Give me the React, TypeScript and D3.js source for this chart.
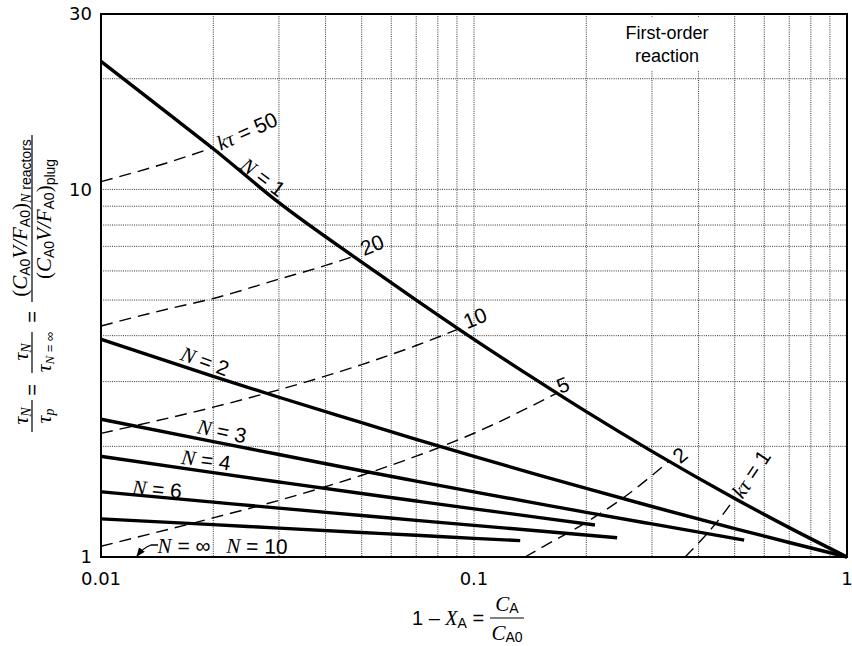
import React from "react";
import * as d3 from "d3";

// ---- data ----
// Solid curves: tau_N / tau_p vs 1 - X_A for N tanks in series
const N1_X = [0.01, 0.015, 0.02, 0.03, 0.05, 0.07, 0.1, 0.15, 0.2, 0.3, 0.5, 0.7, 1];
const N1_Y = [22.3, 16.2, 12.9, 9.2, 6.34, 5.0, 3.91, 2.99, 2.485, 1.938, 1.443, 1.202, 1];
const N2_X = [0.01, 0.02, 0.03, 0.05, 0.07, 0.1, 0.15, 0.2, 0.3, 0.5, 0.7, 1];
const N2_Y = [3.91, 3.1, 2.72, 2.32, 2.09, 1.878, 1.668, 1.536, 1.372, 1.195, 1.095, 1];
const N3_X = [0.01, 0.02, 0.03, 0.05, 0.07, 0.1, 0.15, 0.2, 0.3, 0.53];
const N3_Y = [2.37, 2.06, 1.9, 1.716, 1.609, 1.504, 1.395, 1.323, 1.23, 1.112];
const N4_X = [0.01, 0.02, 0.03, 0.05, 0.07, 0.1, 0.15, 0.211];
const N4_Y = [1.878, 1.696, 1.6, 1.488, 1.42, 1.352, 1.28, 1.222];
const N6_X = [0.01, 0.02, 0.03, 0.05, 0.07, 0.1, 0.15, 0.242];
const N6_Y = [1.504, 1.41, 1.358, 1.297, 1.258, 1.219, 1.177, 1.128];
const N10_X = [0.01, 0.02, 0.03, 0.05, 0.07, 0.1, 0.133];
const N10_Y = [1.27, 1.225, 1.198, 1.166, 1.146, 1.124, 1.108];

// Dashed curves: constant k*tau
const K50_X = [0.01, 0.015, 0.0198];
const K50_Y = [10.5, 11.8, 12.95];
const K20_X = [0.01, 0.015, 0.02, 0.03, 0.04, 0.0476];
const K20_Y = [4.25, 4.72, 5.05, 5.7, 6.21, 6.57];
const K10_X = [0.01, 0.02, 0.03, 0.05, 0.07, 0.0909];
const K10_Y = [2.17, 2.556, 2.851, 3.338, 3.761, 4.17];
const K5_X = [0.01, 0.02, 0.03, 0.05, 0.07, 0.1, 0.1667];
const K5_Y = [1.07, 1.278, 1.426, 1.669, 1.88, 2.171, 2.79];
const K2_X = [0.137, 0.15, 0.2, 0.25, 0.333];
const K2_Y = [1, 1.054, 1.243, 1.443, 1.82];
const K1_X = [0.368, 0.4, 0.45, 0.5];
const K1_Y = [1, 1.091, 1.252, 1.443];

const X_TICKS = [0.01, 0.1, 1];
const X_TICK_LABELS = ["0.01", "0.1", "1"];
const Y_TICKS = [1, 10, 30];
const Y_TICK_LABELS = ["1", "10", "30"];
const X_GRID = [0.02, 0.03, 0.04, 0.05, 0.06, 0.07, 0.08, 0.09, 0.1, 0.2, 0.3, 0.4, 0.5, 0.6, 0.7, 0.8, 0.9];
const Y_GRID = [2, 3, 4, 5, 6, 7, 8, 9, 10, 20];

const SOLID = [
  [N1_X, N1_Y],
  [N2_X, N2_Y],
  [N3_X, N3_Y],
  [N4_X, N4_Y],
  [N6_X, N6_Y],
  [N10_X, N10_Y],
];
const DASHED = [
  [K50_X, K50_Y],
  [K20_X, K20_Y],
  [K10_X, K10_Y],
  [K5_X, K5_Y],
  [K2_X, K2_Y],
  [K1_X, K1_Y],
];

const W = 852;
const H = 646;
const L = 101, R = 847, T = 14, B = 557;

const SERIF = "'Liberation Serif', 'Times New Roman', serif";
const SANS = "'DejaVu Sans', sans-serif";
const SANS2 = "'Liberation Sans', Arial, sans-serif";

export default function App() {
  const x = d3.scaleLog().domain([0.01, 1]).range([L, R]);
  const y = d3.scaleLog().domain([1, 30]).range([B, T]);
  const line = d3
    .line<[number, number]>()
    .x((d) => x(d[0]))
    .y((d) => y(d[1]))
    .curve(d3.curveMonotoneX);
  const toPts = (xs: number[], ys: number[]) =>
    xs.map((v, i) => [v, ys[i]] as [number, number]);

  const nLabel = (cx: number, cy: number, rot: number, num: string) => (
    <text
      transform={`translate(${cx},${cy}) rotate(${rot})`}
      textAnchor="middle"
      dy="0.35em"
      fontSize={21}
      fontFamily={SANS2}
    >
      <tspan fontFamily={SERIF} fontStyle="italic">N</tspan>
      {" = " + num}
    </text>
  );
  const numLabel = (cx: number, cy: number, rot: number, txt: string) => (
    <text
      transform={`translate(${cx},${cy}) rotate(${rot})`}
      textAnchor="middle"
      dy="0.35em"
      fontSize={21}
      fontFamily={SANS2}
    >
      {txt}
    </text>
  );
  const ktLabel = (cx: number, cy: number, rot: number, num: string) => (
    <text
      transform={`translate(${cx},${cy}) rotate(${rot})`}
      textAnchor="middle"
      dy="0.35em"
      fontSize={21}
      fontFamily={SANS2}
    >
      <tspan fontFamily={SERIF} fontStyle="italic">kτ</tspan>
      {" = " + num}
    </text>
  );

  return (
    <svg
      width={W}
      height={H}
      style={{ position: "absolute", left: 0, top: 0, background: "#fff" }}
    >
      <rect x={0} y={0} width={W} height={H} fill="#fff" />
      <defs>
        <marker id="ah" viewBox="0 0 10 10" refX="9" refY="5" markerWidth="7" markerHeight="7" orient="auto">
          <path d="M0,1 L10,5 L0,9 Z" fill="#000" />
        </marker>
      </defs>

      {/* grid */}
      <g stroke="#333" strokeWidth={1} strokeDasharray="1 1.2">
        {X_GRID.map((v) => (
          <line key={"gx" + v} x1={x(v)} x2={x(v)} y1={T} y2={B} />
        ))}
        {Y_GRID.map((v) => (
          <line key={"gy" + v} x1={L} x2={R} y1={y(v)} y2={y(v)} />
        ))}
      </g>

      {/* box for title */}
      <rect x={602} y={17} width={124} height={54} fill="#fff" />
      <text x={667} y={39} textAnchor="middle" fontSize={18} fontFamily={SANS2}>First-order</text>
      <text x={667} y={62} textAnchor="middle" fontSize={18} fontFamily={SANS2}>reaction</text>

      {/* dashed curves */}
      <g fill="none" stroke="#000" strokeWidth={1.4} strokeDasharray="12 7">
        {DASHED.map(([xs, ys], i) => (
          <path key={"d" + i} d={line(toPts(xs, ys)) || ""} />
        ))}
      </g>

      {/* solid curves */}
      <g fill="none" stroke="#000" strokeWidth={3.4}>
        {SOLID.map(([xs, ys], i) => (
          <path key={"s" + i} d={line(toPts(xs, ys)) || ""} />
        ))}
      </g>

      {/* frame */}
      <rect x={L} y={T} width={R - L} height={B - T} fill="none" stroke="#000" strokeWidth={2} />

      {/* tick labels */}
      {Y_TICKS.map((v, i) => (
        <text key={"yt" + v} x={92} y={y(v)} dy="0.36em" textAnchor="end" fontSize={18} fontFamily={SANS}>
          {Y_TICK_LABELS[i]}
        </text>
      ))}
      {X_TICKS.map((v, i) => (
        <text key={"xt" + v} x={x(v)} y={585} textAnchor="middle" fontSize={18} fontFamily={SANS}>
          {X_TICK_LABELS[i]}
        </text>
      ))}

      {/* curve labels */}
      {ktLabel(247, 131, -24, "50")}
      {nLabel(263, 177, 37, "1")}
      {numLabel(372, 245, -22, "20")}
      {numLabel(475, 318, -22, "10")}
      {numLabel(563, 385, -22, "5")}
      {numLabel(680, 455, -40, "2")}
      {ktLabel(751, 474, -56, "1")}
      {nLabel(205, 361, 20, "2")}
      {nLabel(222, 431, 12, "3")}
      {nLabel(206, 460, 8, "4")}
      {nLabel(157, 489, 5, "6")}
      {nLabel(257, 546, 1, "10")}
      {nLabel(184, 546, 0, "∞")}
      <path d="M158,545 L151,545 Q143,548 137,556" fill="none" stroke="#000" strokeWidth={1.3} markerEnd="url(#ah)" />

      {/* x axis title */}
      <text x={412} y={625} fontSize={20} fontFamily={SANS2}>
        {"1 – "}
        <tspan fontFamily={SERIF} fontStyle="italic">X</tspan>
        <tspan fontSize={14} dy={3}>A</tspan>
        <tspan dy={-3}>{" = "}</tspan>
      </text>
      <text x={507} y={611} textAnchor="middle" fontSize={21} fontFamily={SERIF} fontStyle="italic">
        C<tspan fontStyle="normal" fontFamily={SANS2} fontSize={14} dy={2}>A</tspan>
      </text>
      <line x1={490} x2={524} y1={618} y2={618} stroke="#000" strokeWidth={1.2} />
      <text x={507} y={640} textAnchor="middle" fontSize={21} fontFamily={SERIF} fontStyle="italic">
        C<tspan fontStyle="normal" fontFamily={SANS2} fontSize={14} dy={2}>A0</tspan>
      </text>

      {/* y axis title (rotated) */}
      <g transform="rotate(-90)" fontFamily={SERIF}>
        {/* tau_N / tau_p */}
        <text x={-416} y={28} textAnchor="middle" fontSize={22} fontStyle="italic">
          τ<tspan fontSize={14} dy={3}>N</tspan>
        </text>
        <line x1={-432} x2={-400} y1={32} y2={32} stroke="#000" strokeWidth={1.2} />
        <text x={-416} y={51} textAnchor="middle" fontSize={22} fontStyle="italic">
          τ<tspan fontSize={14} dy={3}>p</tspan>
        </text>
        <text x={-390} y={39} textAnchor="middle" fontSize={20} fontFamily={SANS2}>=</text>
        {/* tau_N / tau_N=inf */}
        <text x={-352} y={28} textAnchor="middle" fontSize={22} fontStyle="italic">
          τ<tspan fontSize={14} dy={3}>N</tspan>
        </text>
        <line x1={-373} x2={-332} y1={32} y2={32} stroke="#000" strokeWidth={1.2} />
        <text x={-352} y={51} textAnchor="middle" fontSize={22} fontStyle="italic">
          τ<tspan fontSize={13} dy={3}>N</tspan>
          <tspan fontSize={13} fontStyle="normal" fontFamily={SANS2}>{" = ∞"}</tspan>
        </text>
        <text x={-317} y={39} textAnchor="middle" fontSize={20} fontFamily={SANS2}>=</text>
        {/* big fraction */}
        <text x={-218} y={27} textAnchor="middle" fontSize={21}>
          {"("}
          <tspan fontStyle="italic">C</tspan>
          <tspan fontFamily={SANS2} fontSize={14} dy={3}>A0</tspan>
          <tspan fontStyle="italic" dy={-3}>V/F</tspan>
          <tspan fontFamily={SANS2} fontSize={14} dy={3}>A0</tspan>
          <tspan dy={-3}>)</tspan>
          <tspan fontStyle="italic" fontSize={14} dy={4}>N</tspan>
          <tspan fontFamily={SANS2} fontSize={14}>{" reactors"}</tspan>
        </text>
        <line x1={-302} x2={-135} y1={32} y2={32} stroke="#000" strokeWidth={1.2} />
        <text x={-219} y={51} textAnchor="middle" fontSize={21}>
          {"("}
          <tspan fontStyle="italic">C</tspan>
          <tspan fontFamily={SANS2} fontSize={14} dy={3}>A0</tspan>
          <tspan fontStyle="italic" dy={-3}>V/F</tspan>
          <tspan fontFamily={SANS2} fontSize={14} dy={3}>A0</tspan>
          <tspan dy={-3}>)</tspan>
          <tspan fontFamily={SANS2} fontSize={14} dy={4}>plug</tspan>
        </text>
      </g>
    </svg>
  );
}
